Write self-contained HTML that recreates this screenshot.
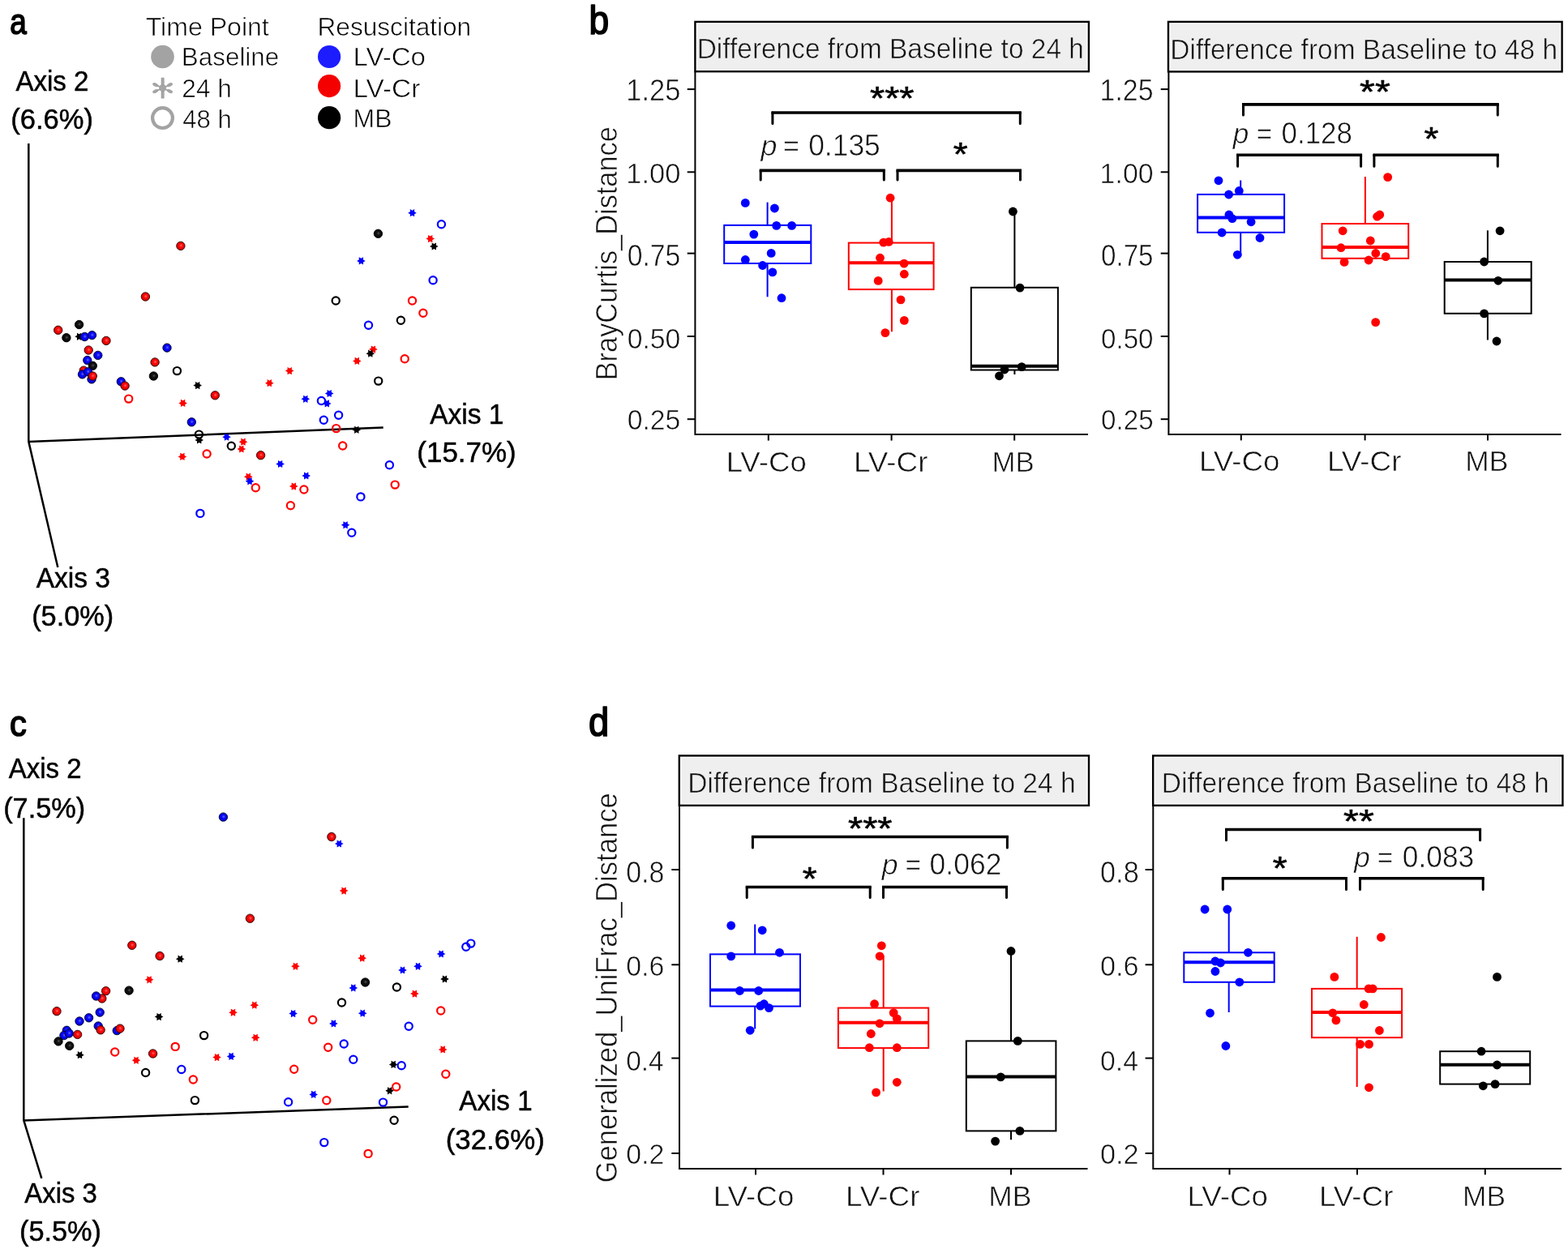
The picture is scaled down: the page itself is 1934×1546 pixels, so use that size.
<!DOCTYPE html>
<html><head><meta charset="utf-8"><title>Figure</title>
<style>html,body{margin:0;padding:0;background:#fff;}svg{display:block;}text.t{stroke:#fff;stroke-width:0.6px;}text.ts{stroke:#efefef;stroke-width:0.6px;}text.e{stroke:#000;stroke-width:0.5px;}</style>
</head><body>
<svg width="1934" height="1546" viewBox="0 0 1934 1546" font-family="'Liberation Sans', Arial, sans-serif">
<rect width="1934" height="1546" fill="#fff"/>

<defs>
<radialGradient id="gr" cx="0.54" cy="0.46" r="0.6">
 <stop offset="0" stop-color="#ff6a6a"/><stop offset="0.35" stop-color="#fa0a0a"/><stop offset="0.8" stop-color="#dc0000"/><stop offset="1" stop-color="#8a0000"/>
</radialGradient>
<radialGradient id="gb" cx="0.54" cy="0.46" r="0.6">
 <stop offset="0" stop-color="#6a6aff"/><stop offset="0.35" stop-color="#0a0afa"/><stop offset="0.8" stop-color="#0000dc"/><stop offset="1" stop-color="#00008a"/>
</radialGradient>
<radialGradient id="gk" cx="0.54" cy="0.46" r="0.6">
 <stop offset="0" stop-color="#5a5a5a"/><stop offset="0.3" stop-color="#151515"/><stop offset="1" stop-color="#000"/>
</radialGradient>
</defs>

<path d="M35.3 544.9L35.3 177M35.3 544.9L472.7 527.6M35.3 544.9L71.3 700" fill="none" stroke="#000" stroke-width="2.5"/>
<circle cx="158.7" cy="492.1" r="4.6" fill="none" stroke="#ff0000" stroke-width="2.2"/>
<circle cx="218.4" cy="457.6" r="4.6" fill="none" stroke="#000000" stroke-width="2.2"/>
<circle cx="245.4" cy="536.1" r="4.6" fill="none" stroke="#000000" stroke-width="2.2"/>
<circle cx="285.3" cy="550.3" r="4.6" fill="none" stroke="#000000" stroke-width="2.2"/>
<circle cx="255.1" cy="560" r="4.6" fill="none" stroke="#ff0000" stroke-width="2.2"/>
<circle cx="544.4" cy="276.7" r="4.6" fill="none" stroke="#0000ff" stroke-width="2.2"/>
<circle cx="534.1" cy="345.8" r="4.6" fill="none" stroke="#0000ff" stroke-width="2.2"/>
<circle cx="414.2" cy="371" r="4.6" fill="none" stroke="#000000" stroke-width="2.2"/>
<circle cx="508.5" cy="371" r="4.6" fill="none" stroke="#ff0000" stroke-width="2.2"/>
<circle cx="521.9" cy="386.2" r="4.6" fill="none" stroke="#ff0000" stroke-width="2.2"/>
<circle cx="494.4" cy="395.3" r="4.6" fill="none" stroke="#000000" stroke-width="2.2"/>
<circle cx="454.5" cy="401.2" r="4.6" fill="none" stroke="#0000ff" stroke-width="2.2"/>
<circle cx="499.2" cy="442.8" r="4.6" fill="none" stroke="#ff0000" stroke-width="2.2"/>
<circle cx="466.7" cy="470.1" r="4.6" fill="none" stroke="#000000" stroke-width="2.2"/>
<circle cx="396.4" cy="494.5" r="4.6" fill="none" stroke="#0000ff" stroke-width="2.2"/>
<circle cx="417.6" cy="512.2" r="4.6" fill="none" stroke="#0000ff" stroke-width="2.2"/>
<circle cx="399.3" cy="518.2" r="4.6" fill="none" stroke="#0000ff" stroke-width="2.2"/>
<circle cx="414.7" cy="528.6" r="4.6" fill="none" stroke="#ff0000" stroke-width="2.2"/>
<circle cx="422.7" cy="550" r="4.6" fill="none" stroke="#ff0000" stroke-width="2.2"/>
<circle cx="480.4" cy="573.7" r="4.6" fill="none" stroke="#0000ff" stroke-width="2.2"/>
<circle cx="487.2" cy="598.1" r="4.6" fill="none" stroke="#ff0000" stroke-width="2.2"/>
<circle cx="374.9" cy="604" r="4.6" fill="none" stroke="#ff0000" stroke-width="2.2"/>
<circle cx="444.9" cy="612.9" r="4.6" fill="none" stroke="#0000ff" stroke-width="2.2"/>
<circle cx="358.4" cy="623.7" r="4.6" fill="none" stroke="#ff0000" stroke-width="2.2"/>
<circle cx="315.3" cy="601.8" r="4.6" fill="none" stroke="#ff0000" stroke-width="2.2"/>
<circle cx="246.9" cy="633.4" r="4.6" fill="none" stroke="#0000ff" stroke-width="2.2"/>
<circle cx="433.8" cy="657.2" r="4.6" fill="none" stroke="#0000ff" stroke-width="2.2"/>
<polygon points="102.9,415.3 100.24,416.82 100.25,419.89 97.6,418.35 94.95,419.89 94.96,416.82 92.3,415.3 94.96,413.78 94.95,410.71 97.6,412.25 100.25,410.71 100.24,413.78" fill="#000000"/>
<polygon points="249,475.6 246.34,477.12 246.35,480.19 243.7,478.65 241.05,480.19 241.06,477.12 238.4,475.6 241.06,474.08 241.05,471.01 243.7,472.55 246.35,471.01 246.34,474.08" fill="#000000"/>
<polygon points="230.9,497.4 228.24,498.92 228.25,501.99 225.6,500.45 222.95,501.99 222.96,498.92 220.3,497.4 222.96,495.88 222.95,492.81 225.6,494.35 228.25,492.81 228.24,495.88" fill="#ff0000"/>
<polygon points="251,543 248.34,544.52 248.35,547.59 245.7,546.05 243.05,547.59 243.06,544.52 240.4,543 243.06,541.48 243.05,538.41 245.7,539.95 248.35,538.41 248.34,541.48" fill="#000000"/>
<polygon points="284.8,539.2 282.14,540.73 282.15,543.79 279.5,542.25 276.85,543.79 276.86,540.73 274.2,539.2 276.86,537.68 276.85,534.61 279.5,536.15 282.15,534.61 282.14,537.68" fill="#0000ff"/>
<polygon points="305.3,545.2 302.64,546.73 302.65,549.79 300,548.25 297.35,549.79 297.36,546.73 294.7,545.2 297.36,543.68 297.35,540.61 300,542.15 302.65,540.61 302.64,543.68" fill="#ff0000"/>
<polygon points="303.1,554 300.44,555.52 300.45,558.59 297.8,557.05 295.15,558.59 295.16,555.52 292.5,554 295.16,552.48 295.15,549.41 297.8,550.95 300.45,549.41 300.44,552.48" fill="#ff0000"/>
<polygon points="230.2,563.4 227.54,564.92 227.55,567.99 224.9,566.45 222.25,567.99 222.26,564.92 219.6,563.4 222.26,561.88 222.25,558.81 224.9,560.35 227.55,558.81 227.54,561.88" fill="#ff0000"/>
<polygon points="513.8,262.7 511.14,264.22 511.15,267.29 508.5,265.75 505.85,267.29 505.86,264.22 503.2,262.7 505.86,261.18 505.85,258.11 508.5,259.65 511.15,258.11 511.14,261.18" fill="#0000ff"/>
<polygon points="536,294.6 533.34,296.12 533.35,299.19 530.7,297.65 528.05,299.19 528.06,296.12 525.4,294.6 528.06,293.08 528.05,290.01 530.7,291.55 533.35,290.01 533.34,293.08" fill="#ff0000"/>
<polygon points="540.6,304 537.94,305.52 537.95,308.59 535.3,307.05 532.65,308.59 532.66,305.52 530,304 532.66,302.48 532.65,299.41 535.3,300.95 537.95,299.41 537.94,302.48" fill="#000000"/>
<polygon points="450.7,321.9 448.04,323.42 448.05,326.49 445.4,324.95 442.75,326.49 442.76,323.42 440.1,321.9 442.76,320.38 442.75,317.31 445.4,318.85 448.05,317.31 448.04,320.38" fill="#0000ff"/>
<polygon points="465.7,431.1 463.04,432.62 463.05,435.69 460.4,434.15 457.75,435.69 457.76,432.62 455.1,431.1 457.76,429.58 457.75,426.51 460.4,428.05 463.05,426.51 463.04,429.58" fill="#ff0000"/>
<polygon points="462.1,436.2 459.44,437.72 459.45,440.79 456.8,439.25 454.15,440.79 454.16,437.72 451.5,436.2 454.16,434.68 454.15,431.61 456.8,433.15 459.45,431.61 459.44,434.68" fill="#000000"/>
<polygon points="445.6,445.4 442.94,446.92 442.95,449.99 440.3,448.45 437.65,449.99 437.66,446.92 435,445.4 437.66,443.88 437.65,440.81 440.3,442.35 442.95,440.81 442.94,443.88" fill="#ff0000"/>
<polygon points="362.5,457.6 359.84,459.12 359.85,462.19 357.2,460.65 354.55,462.19 354.56,459.12 351.9,457.6 354.56,456.08 354.55,453.01 357.2,454.55 359.85,453.01 359.84,456.08" fill="#ff0000"/>
<polygon points="337.6,472.7 334.94,474.22 334.95,477.29 332.3,475.75 329.65,477.29 329.66,474.22 327,472.7 329.66,471.18 329.65,468.11 332.3,469.65 334.95,468.11 334.94,471.18" fill="#ff0000"/>
<polygon points="411.5,485.5 408.84,487.02 408.85,490.09 406.2,488.55 403.55,490.09 403.56,487.02 400.9,485.5 403.56,483.98 403.55,480.91 406.2,482.45 408.85,480.91 408.84,483.98" fill="#0000ff"/>
<polygon points="382.1,492.3 379.44,493.82 379.45,496.89 376.8,495.35 374.15,496.89 374.16,493.82 371.5,492.3 374.16,490.78 374.15,487.71 376.8,489.25 379.45,487.71 379.44,490.78" fill="#0000ff"/>
<polygon points="408.6,497.9 405.94,499.42 405.95,502.49 403.3,500.95 400.65,502.49 400.66,499.42 398,497.9 400.66,496.38 400.65,493.31 403.3,494.85 405.95,493.31 405.94,496.38" fill="#0000ff"/>
<polygon points="445.1,530.3 442.44,531.82 442.45,534.89 439.8,533.35 437.15,534.89 437.16,531.82 434.5,530.3 437.16,528.77 437.15,525.71 439.8,527.25 442.45,525.71 442.44,528.77" fill="#000000"/>
<polygon points="350.9,572.5 348.24,574.02 348.25,577.09 345.6,575.55 342.95,577.09 342.96,574.02 340.3,572.5 342.96,570.98 342.95,567.91 345.6,569.45 348.25,567.91 348.24,570.98" fill="#0000ff"/>
<polygon points="383,587 380.34,588.52 380.35,591.59 377.7,590.05 375.05,591.59 375.06,588.52 372.4,587 375.06,585.48 375.05,582.41 377.7,583.95 380.35,582.41 380.34,585.48" fill="#0000ff"/>
<polygon points="367.6,600.1 364.94,601.62 364.95,604.69 362.3,603.15 359.65,604.69 359.66,601.62 357,600.1 359.66,598.58 359.65,595.51 362.3,597.05 364.95,595.51 364.94,598.58" fill="#ff0000"/>
<polygon points="311.6,588.2 308.94,589.73 308.95,592.79 306.3,591.25 303.65,592.79 303.66,589.73 301,588.2 303.66,586.68 303.65,583.61 306.3,585.15 308.95,583.61 308.94,586.68" fill="#ff0000"/>
<polygon points="313.3,593.8 310.64,595.32 310.65,598.39 308,596.85 305.35,598.39 305.36,595.32 302.7,593.8 305.36,592.27 305.35,589.21 308,590.75 310.65,589.21 310.64,592.27" fill="#0000ff"/>
<polygon points="431.4,647.8 428.74,649.32 428.75,652.39 426.1,650.85 423.45,652.39 423.46,649.32 420.8,647.8 423.46,646.27 423.45,643.21 426.1,644.75 428.75,643.21 428.74,646.27" fill="#0000ff"/>
<circle cx="71.7" cy="407.3" r="5.2" fill="url(#gr)" stroke="#2a0000" stroke-width="0.9"/>
<circle cx="97.6" cy="400.5" r="5.2" fill="url(#gk)" stroke="#000" stroke-width="0.9"/>
<circle cx="81.9" cy="416.7" r="5.2" fill="url(#gk)" stroke="#000" stroke-width="0.9"/>
<circle cx="104.4" cy="415.5" r="5.2" fill="url(#gb)" stroke="#00002a" stroke-width="0.9"/>
<circle cx="113.5" cy="413.6" r="5.2" fill="url(#gb)" stroke="#00002a" stroke-width="0.9"/>
<circle cx="131" cy="420.4" r="5.2" fill="url(#gr)" stroke="#2a0000" stroke-width="0.9"/>
<circle cx="109.2" cy="432" r="5.2" fill="url(#gr)" stroke="#2a0000" stroke-width="0.9"/>
<circle cx="120.8" cy="438.4" r="5.2" fill="url(#gb)" stroke="#00002a" stroke-width="0.9"/>
<circle cx="107.8" cy="444.5" r="5.2" fill="url(#gb)" stroke="#00002a" stroke-width="0.9"/>
<circle cx="114.3" cy="451.3" r="5.2" fill="url(#gk)" stroke="#000" stroke-width="0.9"/>
<circle cx="103.2" cy="457.1" r="5.2" fill="url(#gr)" stroke="#2a0000" stroke-width="0.9"/>
<circle cx="101.5" cy="461.9" r="5.2" fill="url(#gb)" stroke="#00002a" stroke-width="0.9"/>
<circle cx="108.4" cy="458.8" r="5.2" fill="url(#gb)" stroke="#00002a" stroke-width="0.9"/>
<circle cx="113" cy="467.9" r="5.2" fill="url(#gb)" stroke="#00002a" stroke-width="0.9"/>
<circle cx="114.3" cy="464" r="5.2" fill="url(#gr)" stroke="#2a0000" stroke-width="0.9"/>
<circle cx="149.3" cy="470.8" r="5.2" fill="url(#gb)" stroke="#00002a" stroke-width="0.9"/>
<circle cx="154.1" cy="476.1" r="5.2" fill="url(#gr)" stroke="#2a0000" stroke-width="0.9"/>
<circle cx="206" cy="429.1" r="5.2" fill="url(#gb)" stroke="#00002a" stroke-width="0.9"/>
<circle cx="191.1" cy="446.9" r="5.2" fill="url(#gr)" stroke="#2a0000" stroke-width="0.9"/>
<circle cx="189.4" cy="464" r="5.2" fill="url(#gk)" stroke="#000" stroke-width="0.9"/>
<circle cx="265.3" cy="487.8" r="5.2" fill="url(#gr)" stroke="#2a0000" stroke-width="0.9"/>
<circle cx="236.3" cy="520.8" r="5.2" fill="url(#gb)" stroke="#00002a" stroke-width="0.9"/>
<circle cx="321.6" cy="561.7" r="5.2" fill="url(#gr)" stroke="#2a0000" stroke-width="0.9"/>
<circle cx="466.4" cy="288.3" r="5.2" fill="url(#gk)" stroke="#000" stroke-width="0.9"/>
<circle cx="222.9" cy="303.4" r="5.2" fill="url(#gr)" stroke="#2a0000" stroke-width="0.9"/>
<circle cx="179.4" cy="366" r="5.2" fill="url(#gr)" stroke="#2a0000" stroke-width="0.9"/>
<text x="19.45" y="112.15" font-size="35.8" textLength="90.03" lengthAdjust="spacingAndGlyphs" class="e">Axis 2</text>
<text x="13.28" y="159.25" font-size="34.78" textLength="101.72" lengthAdjust="spacingAndGlyphs" class="e">(6.6%)</text>
<text x="530.15" y="523.25" font-size="35.8" textLength="91.35" lengthAdjust="spacingAndGlyphs" class="e">Axis 1</text>
<text x="514.35" y="569.65" font-size="34.78" textLength="122.34" lengthAdjust="spacingAndGlyphs" class="e">(15.7%)</text>
<text x="44.65" y="725.25" font-size="35.8" textLength="91.35" lengthAdjust="spacingAndGlyphs" class="e">Axis 3</text>
<text x="39.19" y="772.15" font-size="34.78" textLength="100.99" lengthAdjust="spacingAndGlyphs" class="e">(5.0%)</text>
<text x="12.27" y="41.71" font-size="44.18" textLength="20.53" lengthAdjust="spacingAndGlyphs" stroke="#000" stroke-width="1.7" stroke-linejoin="round">a</text>
<text x="179.66" y="43.9" font-size="30.43" textLength="152.13" lengthAdjust="spacingAndGlyphs" class="t">Time Point</text>
<text x="223.89" y="81.4" font-size="30.72" textLength="120.35" lengthAdjust="spacingAndGlyphs" class="t">Baseline</text>
<text x="224.32" y="120.2" font-size="30.72" textLength="61.57" lengthAdjust="spacingAndGlyphs" class="t">24 h</text>
<text x="225.28" y="157.5" font-size="30.72" textLength="60.58" lengthAdjust="spacingAndGlyphs" class="t">48 h</text>
<circle cx="200.5" cy="70" r="14.3" fill="#a3a3a3"/>
<g fill="#a6a6a6" stroke="#999" stroke-width="0.6"><rect x="199" y="96.1" width="3.2" height="25" /><line x1="200.6" y1="108.6" x2="191.7" y2="104.6" stroke="#a6a6a6" stroke-width="2.1"/><ellipse cx="191.7" cy="104.6" rx="3.4" ry="1.75" transform="rotate(-155.99 191.7 104.6)"/><line x1="200.6" y1="108.6" x2="191.7" y2="112.6" stroke="#a6a6a6" stroke-width="2.1"/><ellipse cx="191.7" cy="112.6" rx="3.4" ry="1.75" transform="rotate(155.99 191.7 112.6)"/><line x1="200.6" y1="108.6" x2="209.5" y2="104.6" stroke="#a6a6a6" stroke-width="2.1"/><ellipse cx="209.5" cy="104.6" rx="3.4" ry="1.75" transform="rotate(-24.01 209.5 104.6)"/><line x1="200.6" y1="108.6" x2="209.5" y2="112.6" stroke="#a6a6a6" stroke-width="2.1"/><ellipse cx="209.5" cy="112.6" rx="3.4" ry="1.75" transform="rotate(24.01 209.5 112.6)"/><circle cx="200.6" cy="108.6" r="4.0"/></g>
<circle cx="200.5" cy="145.6" r="12.4" fill="none" stroke="#a3a3a3" stroke-width="4.2"/>
<text x="391.57" y="44.2" font-size="30.72" textLength="189.61" lengthAdjust="spacingAndGlyphs" class="t">Resuscitation</text>
<text x="435.45" y="81.1" font-size="30.72" textLength="89.61" lengthAdjust="spacingAndGlyphs" class="t">LV-Co</text>
<text x="435.43" y="119.7" font-size="30.72" textLength="82.87" lengthAdjust="spacingAndGlyphs" class="t">LV-Cr</text>
<text x="435.54" y="157.1" font-size="30.72" textLength="48.07" lengthAdjust="spacingAndGlyphs" class="t">MB</text>
<circle cx="406.1" cy="70" r="14.1" fill="#1c1cff"/>
<circle cx="406.1" cy="106.1" r="14.1" fill="#f50000"/>
<circle cx="406.1" cy="145.2" r="14.1" fill="#000"/>
<rect x="857.4" y="26.9" width="485.5" height="61.3" fill="#fff" stroke="#000" stroke-width="2.4"/>
<rect x="860" y="29.5" width="480.3" height="56.1" fill="#efefef"/>
<text x="859.72" y="72.2" font-size="35.56" textLength="477.19" lengthAdjust="spacingAndGlyphs" fill="#111" class="ts">Difference from Baseline to 24 h</text>
<path d="M857.4 88.2V536.1H1342" fill="none" stroke="#000" stroke-width="2"/>
<line x1="847.7" y1="110.1" x2="857.4" y2="110.1" stroke="#000" stroke-width="2"/>
<text x="772.24" y="123.5" font-size="36" textLength="67.21" lengthAdjust="spacingAndGlyphs" fill="#111" class="t">1.25</text>
<line x1="847.7" y1="212.3" x2="857.4" y2="212.3" stroke="#000" stroke-width="2"/>
<text x="772.24" y="225.5" font-size="35.86" textLength="67.21" lengthAdjust="spacingAndGlyphs" fill="#111" class="t">1.00</text>
<line x1="847.7" y1="312.6" x2="857.4" y2="312.6" stroke="#000" stroke-width="2"/>
<text x="773.65" y="328.2" font-size="36" textLength="65.77" lengthAdjust="spacingAndGlyphs" fill="#111" class="t">0.75</text>
<line x1="847.7" y1="415" x2="857.4" y2="415" stroke="#000" stroke-width="2"/>
<text x="773.65" y="430.2" font-size="35.71" textLength="65.77" lengthAdjust="spacingAndGlyphs" fill="#111" class="t">0.50</text>
<line x1="847.7" y1="517.2" x2="857.4" y2="517.2" stroke="#000" stroke-width="2"/>
<text x="773.65" y="530.3" font-size="35.57" textLength="65.77" lengthAdjust="spacingAndGlyphs" fill="#111" class="t">0.25</text>
<line x1="947.8" y1="536.1" x2="947.8" y2="543.6" stroke="#000" stroke-width="2"/>
<text x="895.67" y="582.2" font-size="35.29" textLength="99.11" lengthAdjust="spacingAndGlyphs" fill="#111" class="t">LV-Co</text>
<line x1="1099.6" y1="536.1" x2="1099.6" y2="543.6" stroke="#000" stroke-width="2"/>
<text x="1053.05" y="582.2" font-size="35.29" textLength="91.38" lengthAdjust="spacingAndGlyphs" fill="#111" class="t">LV-Cr</text>
<line x1="1251.2" y1="536.1" x2="1251.2" y2="543.6" stroke="#000" stroke-width="2"/>
<text x="1223.41" y="582.2" font-size="35.8" textLength="52.34" lengthAdjust="spacingAndGlyphs" fill="#111" class="t">MB</text>
<line x1="946.6" y1="249.6" x2="946.6" y2="277.9" stroke="#0000ff" stroke-width="2.0"/>
<line x1="946.6" y1="325" x2="946.6" y2="366.3" stroke="#0000ff" stroke-width="2.0"/>
<rect x="893.2" y="277.9" width="107.1" height="47.1" fill="none" stroke="#0000ff" stroke-width="2.0"/>
<line x1="893.2" y1="298.9" x2="1000.3" y2="298.9" stroke="#0000ff" stroke-width="4.0"/>
<line x1="1099.9" y1="244.8" x2="1099.9" y2="299.6" stroke="#ff0000" stroke-width="2.0"/>
<line x1="1099.9" y1="357.1" x2="1099.9" y2="409.3" stroke="#ff0000" stroke-width="2.0"/>
<rect x="1046.8" y="299.6" width="104.8" height="57.5" fill="none" stroke="#ff0000" stroke-width="2.0"/>
<line x1="1046.8" y1="324.2" x2="1151.6" y2="324.2" stroke="#ff0000" stroke-width="4.0"/>
<line x1="1251.4" y1="261.5" x2="1251.4" y2="354.8" stroke="#000000" stroke-width="2.0"/>
<line x1="1251.4" y1="456.5" x2="1251.4" y2="462" stroke="#000000" stroke-width="2.0"/>
<rect x="1197.8" y="354.8" width="107.1" height="101.7" fill="none" stroke="#000000" stroke-width="2.0"/>
<line x1="1197.8" y1="451.8" x2="1304.9" y2="451.8" stroke="#000000" stroke-width="4.0"/>
<circle cx="919.3" cy="250.4" r="5.4" fill="#0000ff"/>
<circle cx="955.4" cy="257" r="5.4" fill="#0000ff"/>
<circle cx="957.7" cy="278.4" r="5.4" fill="#0000ff"/>
<circle cx="976.6" cy="278.4" r="5.4" fill="#0000ff"/>
<circle cx="929.8" cy="289.1" r="5.4" fill="#0000ff"/>
<circle cx="951.2" cy="312.4" r="5.4" fill="#0000ff"/>
<circle cx="919.3" cy="320.5" r="5.4" fill="#0000ff"/>
<circle cx="940.6" cy="327.5" r="5.4" fill="#0000ff"/>
<circle cx="952.8" cy="335.9" r="5.4" fill="#0000ff"/>
<circle cx="964" cy="367.7" r="5.4" fill="#0000ff"/>
<circle cx="1098.1" cy="244.2" r="5.4" fill="#ff0000"/>
<circle cx="1089.7" cy="299.1" r="5.4" fill="#ff0000"/>
<circle cx="1096.2" cy="298.4" r="5.4" fill="#ff0000"/>
<circle cx="1085.5" cy="318.2" r="5.4" fill="#ff0000"/>
<circle cx="1115.1" cy="325.1" r="5.4" fill="#ff0000"/>
<circle cx="1115.3" cy="338.2" r="5.4" fill="#ff0000"/>
<circle cx="1083.2" cy="346.4" r="5.4" fill="#ff0000"/>
<circle cx="1111" cy="369.9" r="5.4" fill="#ff0000"/>
<circle cx="1115.3" cy="395.4" r="5.4" fill="#ff0000"/>
<circle cx="1091.9" cy="410.6" r="5.4" fill="#ff0000"/>
<circle cx="1249.4" cy="261" r="5.4" fill="#000000"/>
<circle cx="1258" cy="355.1" r="5.4" fill="#000000"/>
<circle cx="1260.2" cy="452.6" r="5.4" fill="#000000"/>
<circle cx="1239" cy="456" r="5.4" fill="#000000"/>
<circle cx="1232.5" cy="463.8" r="5.4" fill="#000000"/>
<path d="M951.4 139H1259.8" stroke="#000" stroke-width="3.6"/><path d="M952.9 139V152.4M1258.3 139V152.4" stroke="#000" stroke-width="3" stroke-linecap="round"/>
<path d="M936.7 210.4H1091.8" stroke="#000" stroke-width="3.6"/><path d="M938.2 210.4V222.1M1090.3 210.4V222.1" stroke="#000" stroke-width="3" stroke-linecap="round"/>
<path d="M1105.5 210.4H1260" stroke="#000" stroke-width="3.6"/><path d="M1107 210.4V222.1M1258.5 210.4V222.1" stroke="#000" stroke-width="3" stroke-linecap="round"/>
<text x="1073.07" y="135.39" font-size="40.57" textLength="54.35" lengthAdjust="spacingAndGlyphs" stroke="#000" stroke-width="0.6" stroke-linejoin="round">***</text>
<text x="938.62" y="192" font-size="35.5" textLength="19.98" lengthAdjust="spacingAndGlyphs" font-style="italic" fill="#111" class="t">p</text>
<text x="966.1" y="192" font-size="35.5" textLength="19.91" lengthAdjust="spacingAndGlyphs" fill="#111" class="t">=</text>
<text x="997.18" y="192" font-size="36.52" textLength="88.66" lengthAdjust="spacingAndGlyphs" fill="#111" class="t">0.135</text>
<text x="1175.68" y="204.09" font-size="40.57" textLength="17.9" lengthAdjust="spacingAndGlyphs" stroke="#000" stroke-width="0.6" stroke-linejoin="round">*</text>
<rect x="1441" y="26.9" width="485.6" height="61.5" fill="#fff" stroke="#000" stroke-width="2.4"/>
<rect x="1443.6" y="29.5" width="480.4" height="56.3" fill="#efefef"/>
<text x="1443.32" y="72.6" font-size="35.56" textLength="477.69" lengthAdjust="spacingAndGlyphs" fill="#111" class="ts">Difference from Baseline to 48 h</text>
<path d="M1441.4 88.4V535.9H1925.5" fill="none" stroke="#000" stroke-width="2"/>
<line x1="1431.7" y1="110.1" x2="1441.4" y2="110.1" stroke="#000" stroke-width="2"/>
<text x="1356.59" y="123.5" font-size="36" textLength="66.04" lengthAdjust="spacingAndGlyphs" fill="#111" class="t">1.25</text>
<line x1="1431.7" y1="212.3" x2="1441.4" y2="212.3" stroke="#000" stroke-width="2"/>
<text x="1356.59" y="225.5" font-size="35.86" textLength="66.04" lengthAdjust="spacingAndGlyphs" fill="#111" class="t">1.00</text>
<line x1="1431.7" y1="312.6" x2="1441.4" y2="312.6" stroke="#000" stroke-width="2"/>
<text x="1357.97" y="328.2" font-size="36" textLength="64.63" lengthAdjust="spacingAndGlyphs" fill="#111" class="t">0.75</text>
<line x1="1431.7" y1="415" x2="1441.4" y2="415" stroke="#000" stroke-width="2"/>
<text x="1357.97" y="430.2" font-size="35.71" textLength="64.63" lengthAdjust="spacingAndGlyphs" fill="#111" class="t">0.50</text>
<line x1="1431.7" y1="517.2" x2="1441.4" y2="517.2" stroke="#000" stroke-width="2"/>
<text x="1357.97" y="530.3" font-size="35.57" textLength="64.63" lengthAdjust="spacingAndGlyphs" fill="#111" class="t">0.25</text>
<line x1="1530.8" y1="535.9" x2="1530.8" y2="543.4" stroke="#000" stroke-width="2"/>
<text x="1478.96" y="581" font-size="35.29" textLength="99.43" lengthAdjust="spacingAndGlyphs" fill="#111" class="t">LV-Co</text>
<line x1="1683.6" y1="535.9" x2="1683.6" y2="543.4" stroke="#000" stroke-width="2"/>
<text x="1637.05" y="581" font-size="35.29" textLength="91.38" lengthAdjust="spacingAndGlyphs" fill="#111" class="t">LV-Cr</text>
<line x1="1835" y1="535.9" x2="1835" y2="543.4" stroke="#000" stroke-width="2"/>
<text x="1807.17" y="581" font-size="35.8" textLength="53.1" lengthAdjust="spacingAndGlyphs" fill="#111" class="t">MB</text>
<line x1="1530.2" y1="222.5" x2="1530.2" y2="239.9" stroke="#0000ff" stroke-width="2.0"/>
<line x1="1530.2" y1="286.8" x2="1530.2" y2="315" stroke="#0000ff" stroke-width="2.0"/>
<rect x="1477.1" y="239.9" width="107" height="46.9" fill="none" stroke="#0000ff" stroke-width="2.0"/>
<line x1="1477.1" y1="268.5" x2="1584.1" y2="268.5" stroke="#0000ff" stroke-width="4.0"/>
<line x1="1683.9" y1="218" x2="1683.9" y2="276" stroke="#ff0000" stroke-width="2.0"/>
<rect x="1630.5" y="276" width="106.7" height="42.8" fill="none" stroke="#ff0000" stroke-width="2.0"/>
<line x1="1630.5" y1="305" x2="1737.2" y2="305" stroke="#ff0000" stroke-width="4.0"/>
<line x1="1834.9" y1="284.3" x2="1834.9" y2="323" stroke="#000000" stroke-width="2.0"/>
<line x1="1834.9" y1="386.8" x2="1834.9" y2="419.5" stroke="#000000" stroke-width="2.0"/>
<rect x="1781.7" y="323" width="107" height="63.8" fill="none" stroke="#000000" stroke-width="2.0"/>
<line x1="1781.7" y1="345.5" x2="1888.7" y2="345.5" stroke="#000000" stroke-width="4.0"/>
<circle cx="1503" cy="222.8" r="5.4" fill="#0000ff"/>
<circle cx="1528.3" cy="235.5" r="5.4" fill="#0000ff"/>
<circle cx="1515.6" cy="240" r="5.4" fill="#0000ff"/>
<circle cx="1515.9" cy="265" r="5.4" fill="#0000ff"/>
<circle cx="1519.9" cy="269.7" r="5.4" fill="#0000ff"/>
<circle cx="1543.1" cy="273.8" r="5.4" fill="#0000ff"/>
<circle cx="1507.1" cy="287" r="5.4" fill="#0000ff"/>
<circle cx="1554" cy="293.5" r="5.4" fill="#0000ff"/>
<circle cx="1526.3" cy="314.3" r="5.4" fill="#0000ff"/>
<circle cx="1711.7" cy="218.6" r="5.4" fill="#ff0000"/>
<circle cx="1698.6" cy="267.2" r="5.4" fill="#ff0000"/>
<circle cx="1701.8" cy="265" r="5.4" fill="#ff0000"/>
<circle cx="1656.2" cy="284.8" r="5.4" fill="#ff0000"/>
<circle cx="1690.3" cy="297" r="5.4" fill="#ff0000"/>
<circle cx="1654" cy="305.7" r="5.4" fill="#ff0000"/>
<circle cx="1696.8" cy="312.5" r="5.4" fill="#ff0000"/>
<circle cx="1709.2" cy="316.6" r="5.4" fill="#ff0000"/>
<circle cx="1688.1" cy="321" r="5.4" fill="#ff0000"/>
<circle cx="1658.1" cy="323.4" r="5.4" fill="#ff0000"/>
<circle cx="1696.7" cy="397.6" r="5.4" fill="#ff0000"/>
<circle cx="1850.1" cy="284.8" r="5.4" fill="#000000"/>
<circle cx="1830.6" cy="323" r="5.4" fill="#000000"/>
<circle cx="1847.9" cy="346.3" r="5.4" fill="#000000"/>
<circle cx="1830.6" cy="386.9" r="5.4" fill="#000000"/>
<circle cx="1846" cy="421" r="5.4" fill="#000000"/>
<path d="M1532 128.9H1848.8" stroke="#000" stroke-width="3.6"/><path d="M1533.5 128.9V141.9M1847.3 128.9V141.9" stroke="#000" stroke-width="3" stroke-linecap="round"/>
<path d="M1525.1 191.3H1680.1" stroke="#000" stroke-width="3.6"/><path d="M1526.6 191.3V205.2M1678.6 191.3V205.2" stroke="#000" stroke-width="3" stroke-linecap="round"/>
<path d="M1693.4 191.3H1848.8" stroke="#000" stroke-width="3.6"/><path d="M1694.9 191.3V205.2M1847.3 191.3V205.2" stroke="#000" stroke-width="3" stroke-linecap="round"/>
<text x="1677.14" y="127.19" font-size="40.57" textLength="37.55" lengthAdjust="spacingAndGlyphs" stroke="#000" stroke-width="0.6" stroke-linejoin="round">**</text>
<text x="1520.7" y="176.5" font-size="35.5" textLength="19.57" lengthAdjust="spacingAndGlyphs" font-style="italic" fill="#111" class="t">p</text>
<text x="1549.65" y="176.5" font-size="35.5" textLength="19.31" lengthAdjust="spacingAndGlyphs" fill="#111" class="t">=</text>
<text x="1580.6" y="176.5" font-size="36.52" textLength="87.37" lengthAdjust="spacingAndGlyphs" fill="#111" class="t">0.128</text>
<text x="1756.58" y="184.69" font-size="40.57" textLength="17.9" lengthAdjust="spacingAndGlyphs" stroke="#000" stroke-width="0.6" stroke-linejoin="round">*</text>
<text class="t" transform="translate(760.6,466.6) rotate(-90)" x="-2.75" y="0" font-size="37.1" textLength="313.26" lengthAdjust="spacingAndGlyphs" fill="#111">BrayCurtis_Distance</text>
<text x="726.49" y="41.56" font-size="49.18" textLength="24.66" lengthAdjust="spacingAndGlyphs" stroke="#000" stroke-width="1.7" stroke-linejoin="round">b</text>
<path d="M29.3 1382.4L29.3 1009.3M29.3 1382.4L503.7 1365.5M29.3 1382.4L51.3 1453.8" fill="none" stroke="#000" stroke-width="2.5"/>
<circle cx="580.8" cy="1164.1" r="4.6" fill="none" stroke="#0000ff" stroke-width="2.2"/>
<circle cx="574.8" cy="1168.2" r="4.6" fill="none" stroke="#0000ff" stroke-width="2.2"/>
<circle cx="141.7" cy="1298" r="4.6" fill="none" stroke="#ff0000" stroke-width="2.2"/>
<circle cx="179.6" cy="1323.5" r="4.6" fill="none" stroke="#000000" stroke-width="2.2"/>
<circle cx="216.2" cy="1291.4" r="4.6" fill="none" stroke="#ff0000" stroke-width="2.2"/>
<circle cx="251.6" cy="1277.6" r="4.6" fill="none" stroke="#000000" stroke-width="2.2"/>
<circle cx="223.8" cy="1319.5" r="4.6" fill="none" stroke="#0000ff" stroke-width="2.2"/>
<circle cx="238.3" cy="1332" r="4.6" fill="none" stroke="#ff0000" stroke-width="2.2"/>
<circle cx="489.4" cy="1218" r="4.6" fill="none" stroke="#000000" stroke-width="2.2"/>
<circle cx="421.5" cy="1237" r="4.6" fill="none" stroke="#000000" stroke-width="2.2"/>
<circle cx="543.7" cy="1247" r="4.6" fill="none" stroke="#ff0000" stroke-width="2.2"/>
<circle cx="385.7" cy="1258.2" r="4.6" fill="none" stroke="#ff0000" stroke-width="2.2"/>
<circle cx="504.2" cy="1266.3" r="4.6" fill="none" stroke="#0000ff" stroke-width="2.2"/>
<circle cx="404.7" cy="1292.2" r="4.6" fill="none" stroke="#ff0000" stroke-width="2.2"/>
<circle cx="424.2" cy="1288" r="4.6" fill="none" stroke="#0000ff" stroke-width="2.2"/>
<circle cx="435.8" cy="1307.2" r="4.6" fill="none" stroke="#0000ff" stroke-width="2.2"/>
<circle cx="495.2" cy="1314.8" r="4.6" fill="none" stroke="#0000ff" stroke-width="2.2"/>
<circle cx="362.7" cy="1319.3" r="4.6" fill="none" stroke="#ff0000" stroke-width="2.2"/>
<circle cx="549.8" cy="1325.3" r="4.6" fill="none" stroke="#ff0000" stroke-width="2.2"/>
<circle cx="488.7" cy="1341" r="4.6" fill="none" stroke="#ff0000" stroke-width="2.2"/>
<circle cx="402.8" cy="1357.8" r="4.6" fill="none" stroke="#ff0000" stroke-width="2.2"/>
<circle cx="355.6" cy="1359.7" r="4.6" fill="none" stroke="#0000ff" stroke-width="2.2"/>
<circle cx="472.5" cy="1360.1" r="4.6" fill="none" stroke="#0000ff" stroke-width="2.2"/>
<circle cx="240.4" cy="1357.6" r="4.6" fill="none" stroke="#000000" stroke-width="2.2"/>
<circle cx="486.1" cy="1382.3" r="4.6" fill="none" stroke="#000000" stroke-width="2.2"/>
<circle cx="399.8" cy="1409.6" r="4.6" fill="none" stroke="#0000ff" stroke-width="2.2"/>
<circle cx="454.1" cy="1423.4" r="4.6" fill="none" stroke="#ff0000" stroke-width="2.2"/>
<polygon points="423.6,1041 420.94,1042.53 420.95,1045.59 418.3,1044.05 415.65,1045.59 415.66,1042.53 413,1041 415.66,1039.47 415.65,1036.41 418.3,1037.95 420.95,1036.41 420.94,1039.47" fill="#0000ff"/>
<polygon points="429.4,1099.1 426.74,1100.62 426.75,1103.69 424.1,1102.15 421.45,1103.69 421.46,1100.62 418.8,1099.1 421.46,1097.57 421.45,1094.51 424.1,1096.05 426.75,1094.51 426.74,1097.57" fill="#ff0000"/>
<polygon points="227.5,1183.2 224.84,1184.73 224.85,1187.79 222.2,1186.25 219.55,1187.79 219.56,1184.73 216.9,1183.2 219.56,1181.67 219.55,1178.61 222.2,1180.15 224.85,1178.61 224.84,1181.67" fill="#000000"/>
<polygon points="452,1182.2 449.34,1183.73 449.35,1186.79 446.7,1185.25 444.05,1186.79 444.06,1183.73 441.4,1182.2 444.06,1180.67 444.05,1177.61 446.7,1179.15 449.35,1177.61 449.34,1180.67" fill="#ff0000"/>
<polygon points="369.7,1192.3 367.04,1193.83 367.05,1196.89 364.4,1195.35 361.75,1196.89 361.76,1193.83 359.1,1192.3 361.76,1190.77 361.75,1187.71 364.4,1189.25 367.05,1187.71 367.04,1190.77" fill="#ff0000"/>
<polygon points="549.4,1177 546.74,1178.53 546.75,1181.59 544.1,1180.05 541.45,1181.59 541.46,1178.53 538.8,1177 541.46,1175.47 541.45,1172.41 544.1,1173.95 546.75,1172.41 546.74,1175.47" fill="#0000ff"/>
<polygon points="520.8,1192.3 518.14,1193.83 518.15,1196.89 515.5,1195.35 512.85,1196.89 512.86,1193.83 510.2,1192.3 512.86,1190.77 512.85,1187.71 515.5,1189.25 518.15,1187.71 518.14,1190.77" fill="#0000ff"/>
<polygon points="501.8,1197 499.14,1198.53 499.15,1201.59 496.5,1200.05 493.85,1201.59 493.86,1198.53 491.2,1197 493.86,1195.47 493.85,1192.41 496.5,1193.95 499.15,1192.41 499.14,1195.47" fill="#0000ff"/>
<polygon points="189.4,1208.8 186.74,1210.33 186.75,1213.39 184.1,1211.85 181.45,1213.39 181.46,1210.33 178.8,1208.8 181.46,1207.27 181.45,1204.21 184.1,1205.75 186.75,1204.21 186.74,1207.27" fill="#ff0000"/>
<polygon points="201.4,1254.6 198.74,1256.12 198.75,1259.19 196.1,1257.65 193.45,1259.19 193.46,1256.12 190.8,1254.6 193.46,1253.07 193.45,1250.01 196.1,1251.55 198.75,1250.01 198.74,1253.07" fill="#000000"/>
<polygon points="103.8,1301.7 101.14,1303.23 101.15,1306.29 98.5,1304.75 95.85,1306.29 95.86,1303.23 93.2,1301.7 95.86,1300.17 95.85,1297.11 98.5,1298.65 101.15,1297.11 101.14,1300.17" fill="#000000"/>
<polygon points="173.3,1308.3 170.64,1309.83 170.65,1312.89 168,1311.35 165.35,1312.89 165.36,1309.83 162.7,1308.3 165.36,1306.77 165.35,1303.71 168,1305.25 170.65,1303.71 170.64,1306.77" fill="#ff0000"/>
<polygon points="292.8,1249.3 290.14,1250.83 290.15,1253.89 287.5,1252.35 284.85,1253.89 284.86,1250.83 282.2,1249.3 284.86,1247.77 284.85,1244.71 287.5,1246.25 290.15,1244.71 290.14,1247.77" fill="#ff0000"/>
<polygon points="319.1,1240.2 316.44,1241.73 316.45,1244.79 313.8,1243.25 311.15,1244.79 311.16,1241.73 308.5,1240.2 311.16,1238.67 311.15,1235.61 313.8,1237.15 316.45,1235.61 316.44,1238.67" fill="#ff0000"/>
<polygon points="320.5,1280.3 317.84,1281.83 317.85,1284.89 315.2,1283.35 312.55,1284.89 312.56,1281.83 309.9,1280.3 312.56,1278.77 312.55,1275.71 315.2,1277.25 317.85,1275.71 317.84,1278.77" fill="#ff0000"/>
<polygon points="272.8,1304.6 270.14,1306.12 270.15,1309.19 267.5,1307.65 264.85,1309.19 264.86,1306.12 262.2,1304.6 264.86,1303.07 264.85,1300.01 267.5,1301.55 270.15,1300.01 270.14,1303.07" fill="#ff0000"/>
<polygon points="290.4,1303.4 287.74,1304.93 287.75,1307.99 285.1,1306.45 282.45,1307.99 282.46,1304.93 279.8,1303.4 282.46,1301.88 282.45,1298.81 285.1,1300.35 287.75,1298.81 287.74,1301.88" fill="#0000ff"/>
<polygon points="553.8,1208 551.14,1209.53 551.15,1212.59 548.5,1211.05 545.85,1212.59 545.86,1209.53 543.2,1208 545.86,1206.47 545.85,1203.41 548.5,1204.95 551.15,1203.41 551.14,1206.47" fill="#000000"/>
<polygon points="441.1,1218.9 438.44,1220.43 438.45,1223.49 435.8,1221.95 433.15,1223.49 433.16,1220.43 430.5,1218.9 433.16,1217.38 433.15,1214.31 435.8,1215.85 438.45,1214.31 438.44,1217.38" fill="#0000ff"/>
<polygon points="516.7,1226.1 514.04,1227.62 514.05,1230.69 511.4,1229.15 508.75,1230.69 508.76,1227.62 506.1,1226.1 508.76,1224.57 508.75,1221.51 511.4,1223.05 514.05,1221.51 514.04,1224.57" fill="#ff0000"/>
<polygon points="366.9,1250.6 364.24,1252.12 364.25,1255.19 361.6,1253.65 358.95,1255.19 358.96,1252.12 356.3,1250.6 358.96,1249.07 358.95,1246.01 361.6,1247.55 364.25,1246.01 364.24,1249.07" fill="#0000ff"/>
<polygon points="452.5,1250.2 449.84,1251.73 449.85,1254.79 447.2,1253.25 444.55,1254.79 444.56,1251.73 441.9,1250.2 444.56,1248.67 444.55,1245.61 447.2,1247.15 449.85,1245.61 449.84,1248.67" fill="#0000ff"/>
<polygon points="416.7,1262.9 414.04,1264.43 414.05,1267.49 411.4,1265.95 408.75,1267.49 408.76,1264.43 406.1,1262.9 408.76,1261.38 408.75,1258.31 411.4,1259.85 414.05,1258.31 414.04,1261.38" fill="#0000ff"/>
<polygon points="551.5,1294.9 548.84,1296.43 548.85,1299.49 546.2,1297.95 543.55,1299.49 543.56,1296.43 540.9,1294.9 543.56,1293.38 543.55,1290.31 546.2,1291.85 548.85,1290.31 548.84,1293.38" fill="#ff0000"/>
<polygon points="490.5,1313.4 487.84,1314.93 487.85,1317.99 485.2,1316.45 482.55,1317.99 482.56,1314.93 479.9,1313.4 482.56,1311.88 482.55,1308.81 485.2,1310.35 487.85,1308.81 487.84,1311.88" fill="#000000"/>
<polygon points="485.9,1345.8 483.24,1347.33 483.25,1350.39 480.6,1348.85 477.95,1350.39 477.96,1347.33 475.3,1345.8 477.96,1344.27 477.95,1341.21 480.6,1342.75 483.25,1341.21 483.24,1344.27" fill="#000000"/>
<polygon points="392,1350.4 389.34,1351.93 389.35,1354.99 386.7,1353.45 384.05,1354.99 384.06,1351.93 381.4,1350.4 384.06,1348.88 384.05,1345.81 386.7,1347.35 389.35,1345.81 389.34,1348.88" fill="#0000ff"/>
<circle cx="275.4" cy="1008.1" r="5.2" fill="url(#gb)" stroke="#00002a" stroke-width="0.9"/>
<circle cx="408.9" cy="1032.5" r="5.2" fill="url(#gr)" stroke="#2a0000" stroke-width="0.9"/>
<circle cx="308.4" cy="1133.2" r="5.2" fill="url(#gr)" stroke="#2a0000" stroke-width="0.9"/>
<circle cx="162.8" cy="1166.3" r="5.2" fill="url(#gr)" stroke="#2a0000" stroke-width="0.9"/>
<circle cx="197.1" cy="1179.5" r="5.2" fill="url(#gr)" stroke="#2a0000" stroke-width="0.9"/>
<circle cx="130.6" cy="1222.7" r="5.2" fill="url(#gr)" stroke="#2a0000" stroke-width="0.9"/>
<circle cx="159.1" cy="1222.1" r="5.2" fill="url(#gk)" stroke="#000" stroke-width="0.9"/>
<circle cx="125.8" cy="1232" r="5.2" fill="url(#gr)" stroke="#2a0000" stroke-width="0.9"/>
<circle cx="118.6" cy="1229" r="5.2" fill="url(#gb)" stroke="#00002a" stroke-width="0.9"/>
<circle cx="70" cy="1247.7" r="5.2" fill="url(#gr)" stroke="#2a0000" stroke-width="0.9"/>
<circle cx="123.2" cy="1249.1" r="5.2" fill="url(#gb)" stroke="#00002a" stroke-width="0.9"/>
<circle cx="109.6" cy="1255.8" r="5.2" fill="url(#gb)" stroke="#00002a" stroke-width="0.9"/>
<circle cx="98" cy="1260" r="5.2" fill="url(#gb)" stroke="#00002a" stroke-width="0.9"/>
<circle cx="121.2" cy="1266" r="5.2" fill="url(#gb)" stroke="#00002a" stroke-width="0.9"/>
<circle cx="124.1" cy="1270.8" r="5.2" fill="url(#gr)" stroke="#2a0000" stroke-width="0.9"/>
<circle cx="144.2" cy="1271.6" r="5.2" fill="url(#gb)" stroke="#00002a" stroke-width="0.9"/>
<circle cx="148" cy="1269.1" r="5.2" fill="url(#gr)" stroke="#2a0000" stroke-width="0.9"/>
<circle cx="82.3" cy="1271.3" r="5.2" fill="url(#gb)" stroke="#00002a" stroke-width="0.9"/>
<circle cx="78.9" cy="1277.6" r="5.2" fill="url(#gb)" stroke="#00002a" stroke-width="0.9"/>
<circle cx="85.2" cy="1275" r="5.2" fill="url(#gb)" stroke="#00002a" stroke-width="0.9"/>
<circle cx="95.6" cy="1276.4" r="5.2" fill="url(#gr)" stroke="#2a0000" stroke-width="0.9"/>
<circle cx="72" cy="1284.9" r="5.2" fill="url(#gk)" stroke="#000" stroke-width="0.9"/>
<circle cx="85.7" cy="1290.4" r="5.2" fill="url(#gk)" stroke="#000" stroke-width="0.9"/>
<circle cx="188.6" cy="1300" r="5.2" fill="url(#gr)" stroke="#2a0000" stroke-width="0.9"/>
<circle cx="450.5" cy="1212" r="5.2" fill="url(#gk)" stroke="#000" stroke-width="0.9"/>
<text x="10.85" y="960.45" font-size="35.8" textLength="89.62" lengthAdjust="spacingAndGlyphs" class="e">Axis 2</text>
<text x="4.19" y="1009.05" font-size="34.78" textLength="100.99" lengthAdjust="spacingAndGlyphs" class="e">(7.5%)</text>
<text x="566.35" y="1370.25" font-size="35.8" textLength="90.23" lengthAdjust="spacingAndGlyphs" class="e">Axis 1</text>
<text x="549.76" y="1418.15" font-size="34.78" textLength="122.03" lengthAdjust="spacingAndGlyphs" class="e">(32.6%)</text>
<text x="30.35" y="1483.65" font-size="35.8" textLength="89.52" lengthAdjust="spacingAndGlyphs" class="e">Axis 3</text>
<text x="23.99" y="1530.95" font-size="34.78" textLength="100.99" lengthAdjust="spacingAndGlyphs" class="e">(5.5%)</text>
<text x="12.08" y="908.3" font-size="45.09" textLength="20.81" lengthAdjust="spacingAndGlyphs" stroke="#000" stroke-width="1.7" stroke-linejoin="round">c</text>
<rect x="837.8" y="932.4" width="505.2" height="61.4" fill="#fff" stroke="#000" stroke-width="2.4"/>
<rect x="840.4" y="935" width="500" height="56.2" fill="#efefef"/>
<text x="848.32" y="977.9" font-size="35.56" textLength="478.3" lengthAdjust="spacingAndGlyphs" fill="#111" class="ts">Difference from Baseline to 24 h</text>
<path d="M838 993.8V1442.1H1341.5" fill="none" stroke="#000" stroke-width="2"/>
<line x1="828.3" y1="1073" x2="838" y2="1073" stroke="#000" stroke-width="2"/>
<text x="772.14" y="1088.7" font-size="36" textLength="47.26" lengthAdjust="spacingAndGlyphs" fill="#111" class="t">0.8</text>
<line x1="828.3" y1="1190.3" x2="838" y2="1190.3" stroke="#000" stroke-width="2"/>
<text x="772.14" y="1203.9" font-size="35.71" textLength="47.26" lengthAdjust="spacingAndGlyphs" fill="#111" class="t">0.6</text>
<line x1="828.3" y1="1305.6" x2="838" y2="1305.6" stroke="#000" stroke-width="2"/>
<text x="772.16" y="1320.9" font-size="35.43" textLength="46.54" lengthAdjust="spacingAndGlyphs" fill="#111" class="t">0.4</text>
<line x1="828.3" y1="1423" x2="838" y2="1423" stroke="#000" stroke-width="2"/>
<text x="772.14" y="1436.2" font-size="35.71" textLength="47.26" lengthAdjust="spacingAndGlyphs" fill="#111" class="t">0.2</text>
<line x1="932" y1="1442.1" x2="932" y2="1449.6" stroke="#000" stroke-width="2"/>
<text x="879.86" y="1487.8" font-size="35.29" textLength="99.53" lengthAdjust="spacingAndGlyphs" fill="#111" class="t">LV-Co</text>
<line x1="1089.5" y1="1442.1" x2="1089.5" y2="1449.6" stroke="#000" stroke-width="2"/>
<text x="1043.05" y="1487.8" font-size="35.29" textLength="91.38" lengthAdjust="spacingAndGlyphs" fill="#111" class="t">LV-Cr</text>
<line x1="1247" y1="1442.1" x2="1247" y2="1449.6" stroke="#000" stroke-width="2"/>
<text x="1219.17" y="1487.8" font-size="35.8" textLength="53.1" lengthAdjust="spacingAndGlyphs" fill="#111" class="t">MB</text>
<line x1="931.2" y1="1140.5" x2="931.2" y2="1177.4" stroke="#0000ff" stroke-width="2.0"/>
<line x1="931.2" y1="1241.6" x2="931.2" y2="1269.5" stroke="#0000ff" stroke-width="2.0"/>
<rect x="876" y="1177.4" width="111" height="64.2" fill="none" stroke="#0000ff" stroke-width="2.0"/>
<line x1="876" y1="1221.6" x2="987" y2="1221.6" stroke="#0000ff" stroke-width="4.0"/>
<line x1="1089.7" y1="1178.9" x2="1089.7" y2="1243.6" stroke="#ff0000" stroke-width="2.0"/>
<line x1="1089.7" y1="1293.1" x2="1089.7" y2="1346.5" stroke="#ff0000" stroke-width="2.0"/>
<rect x="1033.9" y="1243.6" width="111.3" height="49.5" fill="none" stroke="#ff0000" stroke-width="2.0"/>
<line x1="1033.9" y1="1261.7" x2="1145.2" y2="1261.7" stroke="#ff0000" stroke-width="4.0"/>
<line x1="1247" y1="1173.5" x2="1247" y2="1284.4" stroke="#000000" stroke-width="2.0"/>
<line x1="1247" y1="1395.4" x2="1247" y2="1406.3" stroke="#000000" stroke-width="2.0"/>
<rect x="1191.8" y="1284.4" width="110.6" height="111" fill="none" stroke="#000000" stroke-width="2.0"/>
<line x1="1191.8" y1="1328.4" x2="1302.4" y2="1328.4" stroke="#000000" stroke-width="4.0"/>
<circle cx="901.7" cy="1142" r="5.4" fill="#0000ff"/>
<circle cx="940.2" cy="1147.8" r="5.4" fill="#0000ff"/>
<circle cx="901.7" cy="1179.9" r="5.4" fill="#0000ff"/>
<circle cx="961.5" cy="1175.3" r="5.4" fill="#0000ff"/>
<circle cx="912.4" cy="1222.5" r="5.4" fill="#0000ff"/>
<circle cx="935.7" cy="1222.5" r="5.4" fill="#0000ff"/>
<circle cx="937.9" cy="1241.2" r="5.4" fill="#0000ff"/>
<circle cx="942.4" cy="1238.7" r="5.4" fill="#0000ff"/>
<circle cx="948.5" cy="1243.6" r="5.4" fill="#0000ff"/>
<circle cx="925.2" cy="1271.3" r="5.4" fill="#0000ff"/>
<circle cx="1087.3" cy="1166.8" r="5.4" fill="#ff0000"/>
<circle cx="1085.1" cy="1179.8" r="5.4" fill="#ff0000"/>
<circle cx="1078.6" cy="1238.7" r="5.4" fill="#ff0000"/>
<circle cx="1102.2" cy="1249.6" r="5.4" fill="#ff0000"/>
<circle cx="1106.3" cy="1256.8" r="5.4" fill="#ff0000"/>
<circle cx="1085" cy="1262.8" r="5.4" fill="#ff0000"/>
<circle cx="1074.3" cy="1275.5" r="5.4" fill="#ff0000"/>
<circle cx="1072.3" cy="1292.7" r="5.4" fill="#ff0000"/>
<circle cx="1106.3" cy="1292.7" r="5.4" fill="#ff0000"/>
<circle cx="1106.3" cy="1335.3" r="5.4" fill="#ff0000"/>
<circle cx="1080.6" cy="1347.9" r="5.4" fill="#ff0000"/>
<circle cx="1247" cy="1173.5" r="5.4" fill="#000000"/>
<circle cx="1255.3" cy="1284.4" r="5.4" fill="#000000"/>
<circle cx="1234.3" cy="1328.9" r="5.4" fill="#000000"/>
<circle cx="1257.9" cy="1395.4" r="5.4" fill="#000000"/>
<circle cx="1227.6" cy="1408.1" r="5.4" fill="#000000"/>
<path d="M926.9 1032.5H1243.9" stroke="#000" stroke-width="3.6"/><path d="M928.4 1032.5V1046M1242.4 1032.5V1046" stroke="#000" stroke-width="3" stroke-linecap="round"/>
<path d="M919.7 1094.5H1074.7" stroke="#000" stroke-width="3.6"/><path d="M921.2 1094.5V1107.5M1073.2 1094.5V1107.5" stroke="#000" stroke-width="3" stroke-linecap="round"/>
<path d="M1088 1094.5H1243" stroke="#000" stroke-width="3.6"/><path d="M1089.5 1094.5V1107.5M1241.5 1094.5V1107.5" stroke="#000" stroke-width="3" stroke-linecap="round"/>
<text x="1046.07" y="1035.79" font-size="40.57" textLength="54.35" lengthAdjust="spacingAndGlyphs" stroke="#000" stroke-width="0.6" stroke-linejoin="round">***</text>
<text x="989.68" y="1097.79" font-size="40.57" textLength="17.9" lengthAdjust="spacingAndGlyphs" stroke="#000" stroke-width="0.6" stroke-linejoin="round">*</text>
<text x="1087.71" y="1079.1" font-size="35.5" textLength="19.88" lengthAdjust="spacingAndGlyphs" font-style="italic" fill="#111" class="t">p</text>
<text x="1116.44" y="1079.1" font-size="35.5" textLength="19.43" lengthAdjust="spacingAndGlyphs" fill="#111" class="t">=</text>
<text x="1146.58" y="1079.1" font-size="36.52" textLength="88.82" lengthAdjust="spacingAndGlyphs" fill="#111" class="t">0.062</text>
<rect x="1422.2" y="932.4" width="505.2" height="61.4" fill="#fff" stroke="#000" stroke-width="2.4"/>
<rect x="1424.8" y="935" width="500" height="56.2" fill="#efefef"/>
<text x="1432.82" y="977.9" font-size="35.56" textLength="477.89" lengthAdjust="spacingAndGlyphs" fill="#111" class="ts">Difference from Baseline to 48 h</text>
<path d="M1422.3 993.8V1441.9H1926" fill="none" stroke="#000" stroke-width="2"/>
<line x1="1412.6" y1="1073" x2="1422.3" y2="1073" stroke="#000" stroke-width="2"/>
<text x="1357.03" y="1088.7" font-size="36" textLength="47.69" lengthAdjust="spacingAndGlyphs" fill="#111" class="t">0.8</text>
<line x1="1412.6" y1="1190.3" x2="1422.3" y2="1190.3" stroke="#000" stroke-width="2"/>
<text x="1357.03" y="1203.9" font-size="35.71" textLength="47.69" lengthAdjust="spacingAndGlyphs" fill="#111" class="t">0.6</text>
<line x1="1412.6" y1="1305.6" x2="1422.3" y2="1305.6" stroke="#000" stroke-width="2"/>
<text x="1357.05" y="1320.9" font-size="35.43" textLength="46.97" lengthAdjust="spacingAndGlyphs" fill="#111" class="t">0.4</text>
<line x1="1412.6" y1="1423" x2="1422.3" y2="1423" stroke="#000" stroke-width="2"/>
<text x="1357.03" y="1436.2" font-size="35.71" textLength="47.69" lengthAdjust="spacingAndGlyphs" fill="#111" class="t">0.2</text>
<line x1="1516.5" y1="1441.9" x2="1516.5" y2="1449.4" stroke="#000" stroke-width="2"/>
<text x="1464.56" y="1487.8" font-size="35.29" textLength="99.43" lengthAdjust="spacingAndGlyphs" fill="#111" class="t">LV-Co</text>
<line x1="1674" y1="1441.9" x2="1674" y2="1449.4" stroke="#000" stroke-width="2"/>
<text x="1627.05" y="1487.8" font-size="35.29" textLength="91.38" lengthAdjust="spacingAndGlyphs" fill="#111" class="t">LV-Cr</text>
<line x1="1831.8" y1="1441.9" x2="1831.8" y2="1449.4" stroke="#000" stroke-width="2"/>
<text x="1803.97" y="1487.8" font-size="35.8" textLength="52.99" lengthAdjust="spacingAndGlyphs" fill="#111" class="t">MB</text>
<line x1="1515.7" y1="1122.3" x2="1515.7" y2="1175.3" stroke="#0000ff" stroke-width="2.0"/>
<line x1="1515.7" y1="1211.8" x2="1515.7" y2="1249" stroke="#0000ff" stroke-width="2.0"/>
<rect x="1460.3" y="1175.3" width="111.4" height="36.5" fill="none" stroke="#0000ff" stroke-width="2.0"/>
<line x1="1460.3" y1="1187.3" x2="1571.7" y2="1187.3" stroke="#0000ff" stroke-width="4.0"/>
<line x1="1673.7" y1="1155.8" x2="1673.7" y2="1219.9" stroke="#ff0000" stroke-width="2.0"/>
<line x1="1673.7" y1="1280.2" x2="1673.7" y2="1341" stroke="#ff0000" stroke-width="2.0"/>
<rect x="1618" y="1219.9" width="111.1" height="60.3" fill="none" stroke="#ff0000" stroke-width="2.0"/>
<line x1="1618" y1="1249.1" x2="1729.1" y2="1249.1" stroke="#ff0000" stroke-width="4.0"/>
<rect x="1776.2" y="1297.2" width="111" height="40.4" fill="none" stroke="#000000" stroke-width="2.0"/>
<line x1="1776.2" y1="1313.7" x2="1887.2" y2="1313.7" stroke="#000000" stroke-width="4.0"/>
<circle cx="1486.1" cy="1122" r="5.4" fill="#0000ff"/>
<circle cx="1513.8" cy="1122" r="5.4" fill="#0000ff"/>
<circle cx="1539.4" cy="1175.3" r="5.4" fill="#0000ff"/>
<circle cx="1498.9" cy="1186" r="5.4" fill="#0000ff"/>
<circle cx="1505.4" cy="1188" r="5.4" fill="#0000ff"/>
<circle cx="1498.9" cy="1198.5" r="5.4" fill="#0000ff"/>
<circle cx="1528.8" cy="1211.8" r="5.4" fill="#0000ff"/>
<circle cx="1492.5" cy="1250" r="5.4" fill="#0000ff"/>
<circle cx="1511.9" cy="1290.5" r="5.4" fill="#0000ff"/>
<circle cx="1703.4" cy="1156.5" r="5.4" fill="#ff0000"/>
<circle cx="1645.9" cy="1205.4" r="5.4" fill="#ff0000"/>
<circle cx="1688.1" cy="1219.9" r="5.4" fill="#ff0000"/>
<circle cx="1693.2" cy="1219.9" r="5.4" fill="#ff0000"/>
<circle cx="1682.3" cy="1239.5" r="5.4" fill="#ff0000"/>
<circle cx="1643.8" cy="1249.8" r="5.4" fill="#ff0000"/>
<circle cx="1647.9" cy="1258.9" r="5.4" fill="#ff0000"/>
<circle cx="1701.4" cy="1271.5" r="5.4" fill="#ff0000"/>
<circle cx="1677.6" cy="1288.4" r="5.4" fill="#ff0000"/>
<circle cx="1688.5" cy="1288.4" r="5.4" fill="#ff0000"/>
<circle cx="1688.5" cy="1341.8" r="5.4" fill="#ff0000"/>
<circle cx="1846.5" cy="1205.4" r="5.4" fill="#000000"/>
<circle cx="1827.1" cy="1297.2" r="5.4" fill="#000000"/>
<circle cx="1846.5" cy="1314" r="5.4" fill="#000000"/>
<circle cx="1829.3" cy="1339.8" r="5.4" fill="#000000"/>
<circle cx="1844.1" cy="1337.6" r="5.4" fill="#000000"/>
<path d="M1511 1023.5H1827.1" stroke="#000" stroke-width="3.6"/><path d="M1512.5 1023.5V1036.8M1825.6 1023.5V1036.8" stroke="#000" stroke-width="3" stroke-linecap="round"/>
<path d="M1506.8 1083.7H1662" stroke="#000" stroke-width="3.6"/><path d="M1508.3 1083.7V1097.6M1660.5 1083.7V1097.6" stroke="#000" stroke-width="3" stroke-linecap="round"/>
<path d="M1676 1083.7H1830.7" stroke="#000" stroke-width="3.6"/><path d="M1677.5 1083.7V1097.6M1829.2 1083.7V1097.6" stroke="#000" stroke-width="3" stroke-linecap="round"/>
<text x="1657.14" y="1027.49" font-size="40.86" textLength="37.55" lengthAdjust="spacingAndGlyphs" stroke="#000" stroke-width="0.6" stroke-linejoin="round">**</text>
<text x="1569.78" y="1084.69" font-size="40.57" textLength="17.9" lengthAdjust="spacingAndGlyphs" stroke="#000" stroke-width="0.6" stroke-linejoin="round">*</text>
<text x="1670.3" y="1069.6" font-size="35.5" textLength="19.57" lengthAdjust="spacingAndGlyphs" font-style="italic" fill="#111" class="t">p</text>
<text x="1698.74" y="1069.6" font-size="35.5" textLength="19.43" lengthAdjust="spacingAndGlyphs" fill="#111" class="t">=</text>
<text x="1729.79" y="1069.6" font-size="36.52" textLength="88.4" lengthAdjust="spacingAndGlyphs" fill="#111" class="t">0.083</text>
<text class="t" transform="translate(760.6,1457.8) rotate(-90)" x="-1.73" y="0" font-size="37.1" textLength="481.28" lengthAdjust="spacingAndGlyphs" fill="#111">Generalized_UniFrac_Distance</text>
<text x="726.04" y="908.35" font-size="49.59" textLength="25.21" lengthAdjust="spacingAndGlyphs" stroke="#000" stroke-width="1.7" stroke-linejoin="round">d</text>
</svg>
</body></html>
